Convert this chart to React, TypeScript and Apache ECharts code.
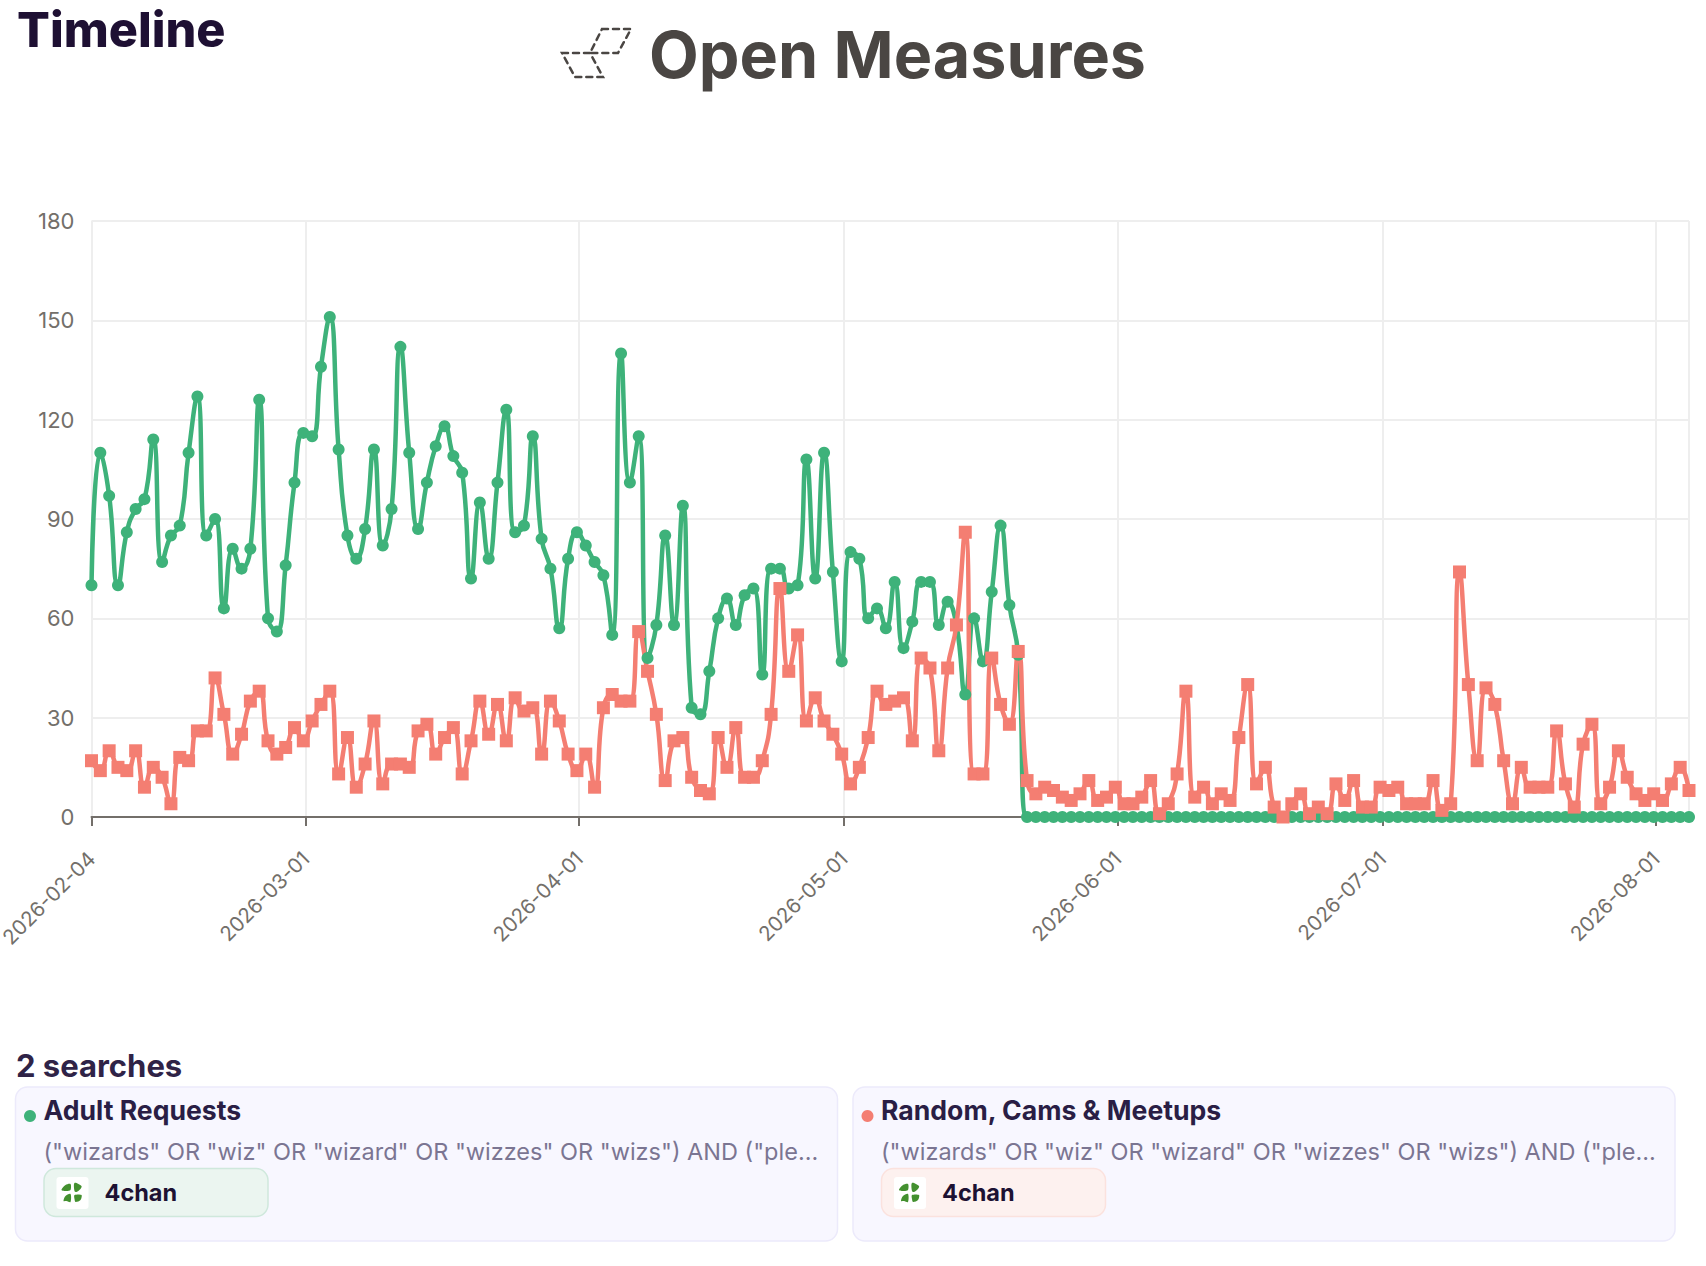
import React, { useEffect, useRef } from "react";
import * as echarts from "echarts";

const adultRequests = [70,110,97,70,86,93,96,114,77,85,88,110,127,85,90,63,81,75,81,126,60,56,76,101,116,115,136,151,111,85,78,87,111,82,93,142,110,87,101,112,118,109,104,72,95,78,101,123,86,88,115,84,75,57,78,86,82,77,73,55,140,101,115,48,58,85,58,94,33,31,44,60,66,58,67,69,43,75,75,69,70,108,72,110,74,47,80,78,60,63,57,71,51,59,71,71,58,65,58,37,60,47,68,88,64,49,
0,0,0,0,0,0,0,0,0,0,0,0,0,0,0,0,0,0,0,0,0,0,0,0,0,0,0,0,0,0,0,0,0,0,0,0,0,0,0,0,0,0,0,0,0,0,0,0,0,0,0,0,0,0,0,0,0,0,0,0,0,0,0,0,0,0,0,0,0,0,0,0,0,0,0,0];
const randomCams = [17,14,20,15,14,20,9,15,12,4,18,17,26,26,42,31,19,25,35,38,23,19,21,27,23,29,34,38,13,24,9,16,29,10,16,16,15,26,28,19,24,27,13,23,35,25,34,23,36,32,33,19,35,29,19,14,19,9,33,37,35,35,56,44,31,11,23,24,12,8,7,24,15,27,12,12,17,31,69,44,55,29,36,29,25,19,10,15,24,38,34,35,36,23,48,45,20,45,58,86,13,13,48,34,28,50,
11,7,9,8,6,5,7,11,5,6,9,4,4,6,11,1,4,13,38,6,9,4,7,5,24,40,10,15,3,0,4,7,1,3,1,10,5,11,3,3,9,8,9,4,4,4,11,2,4,74,40,17,39,34,17,4,15,9,9,9,26,10,3,22,28,4,9,20,12,7,5,7,5,10,15,8];

const DAY = 86400000;
const firstPoint = Date.UTC(2026, 1, 4, 18, 0);
const timestamps = adultRequests.map((_, i) => firstPoint + i * DAY);
const yTicks = [0, 30, 60, 90, 120, 150, 180];
const FONT = "Inter, 'Noto Sans', sans-serif";
const GREEN = "#3EB27A";
const RED = "#F47E72";
const AXIS = "#736F6A";
const QUERY = '("wizards" OR "wiz" OR "wizard" OR "wizzes" OR "wizs") AND ("ple...';

const leaves = [
  [[-11, -3], [-7, -8], [-2, -9], [-2, -3], [-6, -2]],
  [[2, -10], [9, -7], [8, -4], [4, -1], [2, -2]],
  [[-9, 8], [-7, 3], [-2, 1], [-2, 9], [-6, 8]],
  [[2, 2], [9, 2], [8, 7], [3, 9], [2, 6]],
];

function card(x: number, name: string, color: string, chipFill: string, chipStroke: string) {
  const t = (text: string, tx: number, ty: number, font: string, fill: string) => ({
    type: "text", x: tx, y: ty,
    style: { text, font, fill, textVerticalAlign: "middle" },
  });
  return [
    { type: "rect", shape: { x, y: 1087, width: 822, height: 154, r: 12 }, style: { fill: "#F8F7FF", stroke: "#ECEAFB", lineWidth: 1.5 } },
    { type: "circle", shape: { cx: x + 14.5, cy: 1116, r: 6 }, style: { fill: color } },
    t(name, x + 28, 1110, `700 26.6px ${FONT}`, "#2A1E45"),
    t(QUERY, x + 28, 1151, `400 23.5px ${FONT}`, "#7B7592"),
    { type: "rect", shape: { x: x + 28.5, y: 1168.5, width: 224, height: 48, r: 12 }, style: { fill: chipFill, stroke: chipStroke, lineWidth: 1.5 } },
    { type: "rect", shape: { x: x + 41, y: 1177, width: 32, height: 32, r: 3 }, style: { fill: "#FFFFFF" } },
    ...leaves.map((pts) => ({
      type: "polygon",
      x: x + 57,
      y: 1193,
      shape: { points: pts, smooth: 0.3 },
      style: { fill: "#43902F" },
    })),
    t("4chan", x + 89, 1192, `700 23.5px ${FONT}`, "#1D1233"),
  ];
}

export default function App() {
  const ref = useRef<HTMLDivElement>(null);
  useEffect(() => {
    document.body.style.margin = "0";
    const chart = echarts.init(ref.current!, undefined, { renderer: "svg" });
    chart.setOption({
      animation: false,
      useUTC: true,
      backgroundColor: "#FFFFFF",
      grid: { left: 91.5, right: 17, top: 221, height: 596, containLabel: false, outerBoundsMode: "none" },
      xAxis: {
        type: "time",
        min: firstPoint,
        max: timestamps[timestamps.length - 1],
        axisLine: { show: true, lineStyle: { color: AXIS, width: 2 } },
        axisTick: { show: true, length: 9, lineStyle: { color: AXIS, width: 2 } },
        splitLine: { show: true, lineStyle: { color: "#EEEEEE", width: 2 } },
        axisLabel: {
          show: true,
          rotate: 45,
          formatter: "{yyyy}-{MM}-{dd}",
          showMinLabel: true,
          showMaxLabel: false,
          hideOverlap: false,
          color: AXIS,
          fontSize: 20.5,
          fontFamily: FONT,
          margin: 38,
        },
      },
      yAxis: {
        type: "value",
        min: yTicks[0],
        max: yTicks[yTicks.length - 1],
        interval: yTicks[1] - yTicks[0],
        axisLine: { show: false },
        axisTick: { show: false },
        splitLine: { show: true, lineStyle: { color: "#EEEEEE", width: 2 } },
        axisLabel: { color: AXIS, fontSize: 22, fontFamily: FONT, margin: 17, padding: [0, 0, 4, 0] },
      },
      series: [
        {
          name: "Adult Requests",
          type: "line",
          smooth: true,
          symbol: "circle",
          symbolSize: 12,
          showAllSymbol: true,
          clip: false,
          lineStyle: { color: GREEN, width: 4.5 },
          itemStyle: { color: GREEN },
          data: timestamps.map((t, i) => [t, adultRequests[i]]),
        },
        {
          name: "Random, Cams & Meetups",
          type: "line",
          smooth: true,
          symbol: "rect",
          symbolSize: 13,
          showAllSymbol: true,
          clip: false,
          lineStyle: { color: RED, width: 4.5 },
          itemStyle: { color: RED },
          data: timestamps.map((t, i) => [t, randomCams[i]]),
        },
      ],
      graphic: {
        elements: [
          { type: "text", x: 17, y: 29, style: { text: "Timeline", font: `800 48.6px ${FONT}`, fill: "#1E1033", textVerticalAlign: "middle" } },
          { type: "text", x: 649, y: 54, style: { text: "Open Measures", font: `700 64.6px ${FONT}`, fill: "#4A4643", textVerticalAlign: "middle" } },
          { type: "polygon", shape: { points: [[602, 29], [631, 29], [618, 53], [590, 53]] }, style: { fill: "none", stroke: "#4A4643", lineWidth: 2.5, lineDash: [6, 5], lineCap: "round" } },
          { type: "polygon", shape: { points: [[562, 53], [590, 53], [603, 77], [575, 77]] }, style: { fill: "none", stroke: "#4A4643", lineWidth: 2.5, lineDash: [6, 5], lineCap: "round" } },
          { type: "text", x: 16, y: 1065, style: { text: "2 searches", font: `700 31px ${FONT}`, fill: "#2F2347", textVerticalAlign: "middle" } },
          ...card(15.5, "Adult Requests", GREEN, "#EBF5F0", "#CFE8DC"),
          ...card(853, "Random, Cams & Meetups", RED, "#FDF1EF", "#FBE2DE"),
        ],
      },
    });
    return () => chart.dispose();
  }, []);
  return <div ref={ref} style={{ position: "absolute", left: 0, top: 0, width: 1706, height: 1266 }} />;
}
